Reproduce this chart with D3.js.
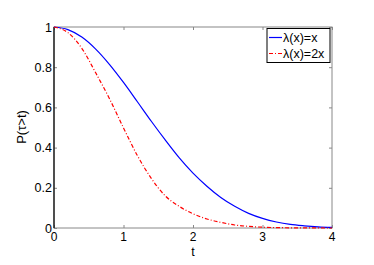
<!DOCTYPE html>
<html>
<head>
<meta charset="utf-8">
<script src="https://cdn.jsdelivr.net/npm/d3@7"></script>
<style>
  body { margin: 0; background: #fff; }
  text { font-family: "Liberation Sans", Arial, sans-serif; }
</style>
</head>
<body>
<div id="chart"></div>
<script>
// data
var tValues = [0, 0.2, 0.4, 0.6, 0.8, 1.0, 1.2, 1.4, 1.6, 1.8, 2.0,
               2.2, 2.4, 2.6, 2.8, 3.0, 3.2, 3.4, 3.6, 3.8, 4.0];
var pLinear = [1, 0.987, 0.950, 0.890, 0.813, 0.724, 0.628, 0.531, 0.438, 0.350, 0.273,
               0.208, 0.152, 0.108, 0.073, 0.048, 0.030, 0.018, 0.011, 0.006, 0.003];
var pDouble = [1, 0.972, 0.894, 0.772, 0.642, 0.498, 0.360, 0.247, 0.160, 0.108, 0.071,
               0.045, 0.028, 0.015, 0.008, 0.004, 0.002, 0.001, 0.0005, 0.0002, 0];
var xTicks = [0, 1, 2, 3, 4];
var yTicks = [0, 0.2, 0.4, 0.6, 0.8, 1];
var seriesNames = ["\u03bb(x)=x", "\u03bb(x)=2x"];
var seriesColors = ["#0000ff", "#ff0000"];

var width = 374, height = 265;
var plot = {left: 54, right: 332, top: 27, bottom: 228};

var svg = d3.select("#chart")
  .append("svg")
    .attr("width", width)
    .attr("height", height);

var x = d3.scaleLinear()
  .domain([0, 4])
  .range([plot.left, plot.right]);
var y = d3.scaleLinear()
  .domain([0, 1])
  .range([plot.bottom, plot.top]);

// box (top/right/bottom gray, left black)
svg.append("rect")
  .attr("x", plot.left).attr("y", plot.top)
  .attr("width", plot.right - plot.left)
  .attr("height", plot.bottom - plot.top)
  .style("fill", "none")
  .style("stroke", "#888")
  .style("stroke-width", 1);

// ticks pointing inward, on all four sides
var tickLen = 3;
function grayTicks(g) {
  g.select(".domain").remove();
  g.selectAll("line").style("stroke", "#888");
}
svg.append("g")
  .attr("transform", "translate(0," + plot.bottom + ")")
  .call(d3.axisTop(x).tickValues(xTicks).tickSize(tickLen).tickFormat(""))
  .call(grayTicks);
svg.append("g")
  .attr("transform", "translate(0," + plot.top + ")")
  .call(d3.axisBottom(x).tickValues(xTicks).tickSize(tickLen).tickFormat(""))
  .call(grayTicks);
svg.append("g")
  .attr("transform", "translate(" + plot.left + ",0)")
  .call(d3.axisRight(y).tickValues(yTicks).tickSize(tickLen).tickFormat(""))
  .call(grayTicks);
svg.append("g")
  .attr("transform", "translate(" + plot.right + ",0)")
  .call(d3.axisLeft(y).tickValues(yTicks).tickSize(tickLen).tickFormat(""))
  .call(grayTicks);

// left axis line in black
svg.append("line")
  .attr("x1", plot.left).attr("x2", plot.left)
  .attr("y1", plot.top).attr("y2", plot.bottom)
  .style("stroke", "#000")
  .style("stroke-width", 1.2);

// tick labels
svg.selectAll(".xlab")
  .data(xTicks)
  .enter()
  .append("text")
    .attr("x", function(d) { return x(d); })
    .attr("y", 241)
    .attr("text-anchor", "middle")
    .style("font-size", "12px")
    .text(function(d) { return d; });
svg.selectAll(".ylab")
  .data(yTicks)
  .enter()
  .append("text")
    .attr("x", 52)
    .attr("y", function(d) { return y(d) + 4.5; })
    .attr("text-anchor", "end")
    .style("font-size", "12.5px")
    .text(function(d) { return d; });

// axis titles
svg.append("text")
  .attr("x", x(2))
  .attr("y", 256)
  .attr("text-anchor", "middle")
  .style("font-size", "12.5px")
  .text("t");
svg.append("text")
  .attr("transform", "translate(26,127) rotate(-90)")
  .attr("text-anchor", "middle")
  .style("font-size", "13px")
  .text("P(\u03c4>t)");

// curves
var line = d3.line()
  .x(function(d) { return x(d[0]); })
  .y(function(d) { return y(d[1]); })
  .curve(d3.curveMonotoneX);

svg.append("path")
  .datum(d3.zip(tValues, pLinear))
  .attr("d", line)
  .style("fill", "none")
  .style("stroke", seriesColors[0])
  .style("stroke-width", 1.2);
svg.append("path")
  .datum(d3.zip(tValues, pDouble))
  .attr("d", line)
  .style("fill", "none")
  .style("stroke", seriesColors[1])
  .style("stroke-width", 1.2)
  .style("stroke-dasharray", "4,2,1,2");

// legend
var legend = svg.append("g");
legend.append("rect")
  .attr("x", 267).attr("y", 28.5)
  .attr("width", 63).attr("height", 34)
  .style("fill", "#fff")
  .style("stroke", "#000")
  .style("stroke-width", 1);
seriesNames.forEach(function(name, i) {
  var ly = 37.5 + i * 16;
  legend.append("line")
    .attr("x1", 269).attr("x2", 282)
    .attr("y1", ly).attr("y2", ly)
    .style("stroke", seriesColors[i])
    .style("stroke-width", 1.2)
    .style("stroke-dasharray", i == 1 ? "4,2,1,2" : null);
  legend.append("text")
    .attr("x", 283)
    .attr("y", ly + 4.5)
    .style("font-size", "12.5px")
    .text(name);
});
</script>
</body>
</html>
